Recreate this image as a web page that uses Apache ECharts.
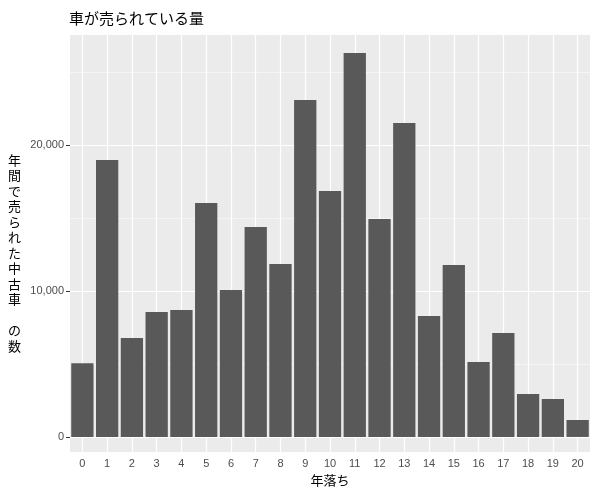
<!DOCTYPE html><html><head><meta charset="utf-8"><script src="https://cdn.jsdelivr.net/npm/echarts@6/dist/echarts.min.js"></script></head><body style="margin:0"><div id="c" style="width:600px;height:500px"></div><script>
const categories=['0','1','2','3','4','5','6','7','8','9','10','11','12','13','14','15','16','17','18','19','20'];
const values=[5050,18970,6780,8560,8700,16030,10070,14380,11850,23080,16850,26300,14930,21500,8290,11780,5140,7120,2950,2600,1160];
const yTicks=[0,10000,20000];
const yMinor=[5000,15000,25000];
const f='"Noto Sans CJK JP", sans-serif';
const chart=echarts.init(document.getElementById('c'));
const yName='年間で売られた中古車 の数'.split('').join('\n');
chart.setOption({
 animation:false,
 title:{text:'車が売られている量',left:64,top:6,textStyle:{fontFamily:f,fontSize:15,fontWeight:'normal',color:'#000'}},
 graphic:[{type:'rect',shape:{x:70,y:35,width:520,height:417},style:{fill:'#EBEBEB'},z:-10},
  {type:'text',left:8,top:152,style:{text:yName,font:'13px '+f,fill:'#000',lineHeight:15.5,align:'center'}}],
 grid:{left:70,right:10,top:35,bottom:48},
 xAxis:{type:'category',data:categories,name:'年落ち',nameLocation:'middle',nameGap:22,nameTextStyle:{fontFamily:f,fontSize:13,color:'#000'},
  axisLine:{show:false},axisTick:{alignWithLabel:true,length:4,lineStyle:{color:'#333'}},axisLabel:{color:'#4D4D4D',fontSize:11,margin:6},splitLine:{show:false}},
 yAxis:{type:'value',min:-1030,max:27530,axisLine:{show:false},splitLine:{show:false},
  axisTick:{show:true,length:4,lineStyle:{color:'#333'},customValues:yTicks},
  axisLabel:{color:'#4D4D4D',fontSize:11,margin:6,customValues:yTicks}},
 series:[
  {type:'line',data:[],z:1,silent:true,markLine:{symbol:'none',silent:true,label:{show:false},animation:false,
   data:[...yTicks.map(v=>({yAxis:v,lineStyle:{color:'#fff',width:1.2,type:'solid'}})),
         ...yMinor.map(v=>({yAxis:v,lineStyle:{color:'#fff',width:0.5,type:'solid'}})),
         ...categories.map(c=>({xAxis:c,lineStyle:{color:'#fff',width:1.2,type:'solid'}}))]}},
  {type:'bar',data:values,z:5,barCategoryGap:'10%',itemStyle:{color:'#595959'}}
 ]
});
</script></body></html>
